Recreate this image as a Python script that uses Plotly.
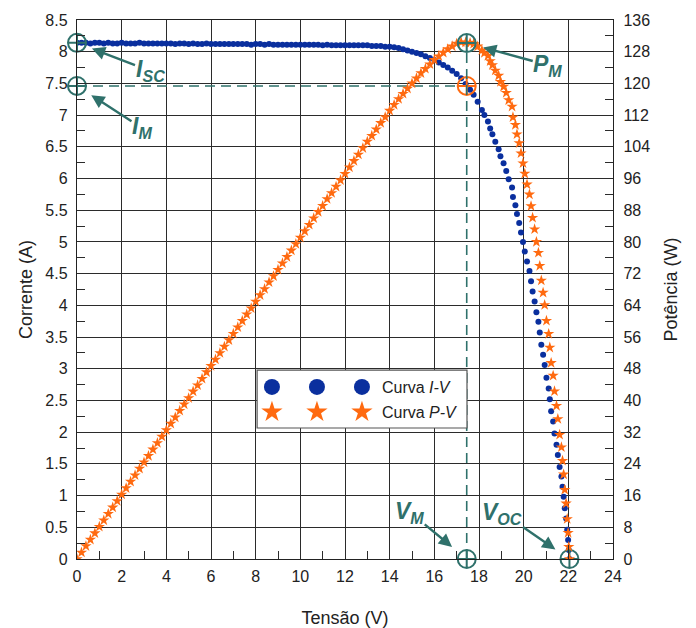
import plotly.graph_objects as go

# ---------------- data ----------------
voltage = [
    0.0, 0.2, 0.4, 0.6, 0.8, 1.0, 1.2, 1.4, 1.6, 1.8,
    2.0, 2.2, 2.4, 2.6, 2.8, 3.0, 3.2, 3.4, 3.6, 3.8,
    4.0, 4.2, 4.4, 4.6, 4.8, 5.0, 5.2, 5.4, 5.6, 5.8,
    6.0, 6.2, 6.4, 6.6, 6.8, 7.0, 7.2, 7.4, 7.6, 7.8,
    8.0, 8.2, 8.4, 8.6, 8.8, 9.0, 9.2, 9.4, 9.6, 9.8,
    10.0, 10.2, 10.4, 10.6, 10.8, 11.0, 11.2, 11.4, 11.6, 11.8,
    12.0, 12.2, 12.4, 12.6, 12.8, 13.0, 13.2, 13.4, 13.6, 13.8,
    14.0, 14.2, 14.4, 14.6, 14.8, 15.0, 15.2, 15.4, 15.6, 15.8,
    16.0, 16.2, 16.4, 16.6, 16.8, 17.0, 17.2, 17.4, 17.60, 17.76,
    17.94, 18.13, 18.24, 18.40, 18.50, 18.60, 18.73, 18.88, 18.96, 19.10,
    19.22, 19.33, 19.48, 19.52, 19.63, 19.70, 19.80, 19.88, 19.97, 20.05,
    20.15, 20.26, 20.33, 20.40, 20.49, 20.57, 20.66, 20.72, 20.79, 20.87,
    20.94, 21.02, 21.12, 21.17, 21.23, 21.32, 21.38, 21.47, 21.53, 21.61,
    21.69, 21.74, 21.79, 21.84, 21.90, 21.95, 21.99, 22.02, 22.05,
]
current = [
    8.14, 8.14, 8.14, 8.13, 8.14, 8.14, 8.13, 8.14, 8.13, 8.13,
    8.14, 8.13, 8.13, 8.13, 8.14, 8.13, 8.13, 8.13, 8.13, 8.13,
    8.13, 8.13, 8.12, 8.13, 8.13, 8.12, 8.13, 8.12, 8.12, 8.13,
    8.12, 8.12, 8.12, 8.12, 8.12, 8.12, 8.12, 8.12, 8.12, 8.11,
    8.12, 8.12, 8.11, 8.12, 8.11, 8.11, 8.11, 8.11, 8.11, 8.11,
    8.11, 8.11, 8.11, 8.11, 8.11, 8.10, 8.11, 8.10, 8.10, 8.10,
    8.10, 8.10, 8.10, 8.10, 8.10, 8.10, 8.09, 8.09, 8.09, 8.08,
    8.08, 8.07, 8.06, 8.04, 8.02, 8.00, 7.98, 7.96, 7.93, 7.90,
    7.87, 7.83, 7.79, 7.75, 7.70, 7.65, 7.58, 7.49, 7.40, 7.32,
    7.21, 7.08, 7.00, 6.90, 6.79, 6.70, 6.58, 6.46, 6.35, 6.24,
    6.12, 5.99, 5.86, 5.71, 5.58, 5.44, 5.30, 5.15, 5.00, 4.85,
    4.69, 4.54, 4.38, 4.22, 4.06, 3.89, 3.74, 3.57, 3.38, 3.22,
    3.06, 2.86, 2.69, 2.52, 2.33, 2.17, 1.98, 1.80, 1.64, 1.45,
    1.30, 1.14, 0.98, 0.80, 0.64, 0.46, 0.30, 0.14, 0.0,
]
power = [v * i for v, i in zip(voltage, current)]

isc = 8.14   # short-circuit current (A)
voc = 22.05  # open-circuit voltage (V)
vm = 17.45   # voltage at maximum power (V)
im = 7.46    # current at maximum power (A)
pm = vm * im

legend_names = ["Curva <i>I-V</i>", "Curva <i>P-V</i>"]
x_ticks = [0, 2, 4, 6, 8, 10, 12, 14, 16, 18, 20, 22, 24]

# ---------------- styling ----------------
TEAL = "#2f716b"
BLUE = "#0a2f9e"
ORANGE = "#ff6a10"
GRID = "#2b2b2b"
FONT = "Liberation Sans, Arial, sans-serif"

fig = go.Figure()

# dashed guide lines
fig.add_trace(go.Scatter(x=[0, vm], y=[im, im], mode="lines", yaxis="y",
                         line=dict(color=TEAL, dash="10px,6px", width=1.6),
                         showlegend=False, hoverinfo="skip"))
fig.add_trace(go.Scatter(x=[vm, vm], y=[0, pm], mode="lines", yaxis="y2",
                         line=dict(color=TEAL, dash="10px,6px", width=1.6),
                         showlegend=False, hoverinfo="skip"))

# data
fig.add_trace(go.Scatter(x=voltage, y=current, mode="markers", yaxis="y",
                         marker=dict(color=BLUE, size=6, line=dict(width=0)),
                         showlegend=False))
fig.add_trace(go.Scatter(x=voltage, y=power, mode="markers", yaxis="y2",
                         marker=dict(symbol="star", color=ORANGE, size=8.5, line=dict(width=0)),
                         showlegend=False))

# characteristic points
fig.add_trace(go.Scatter(x=[0, 0, vm, voc], y=[isc, im, 0, 0], mode="markers", yaxis="y",
                         marker=dict(symbol="circle-cross-open", size=18, color=TEAL,
                                     line=dict(width=2, color=TEAL)),
                         cliponaxis=False, showlegend=False))
fig.add_trace(go.Scatter(x=[vm], y=[pm], mode="markers", yaxis="y2",
                         marker=dict(symbol="circle-cross-open", size=18, color=TEAL,
                                     line=dict(width=2, color=TEAL)),
                         cliponaxis=False, showlegend=False))
fig.add_trace(go.Scatter(x=[vm], y=[im], mode="markers", yaxis="y",
                         marker=dict(symbol="circle-cross-open", size=18, color=ORANGE,
                                     line=dict(width=2, color=ORANGE)),
                         cliponaxis=False, showlegend=False))

# legend entries (three symbols per row, like the original)
for k in range(3):
    fig.add_trace(go.Scatter(x=[None], y=[None], mode="markers",
                             marker=dict(color=BLUE, size=16),
                             name=legend_names[0] if k == 2 else "", legend="legend"))
for k in range(3):
    fig.add_trace(go.Scatter(x=[None], y=[None], mode="markers",
                             marker=dict(symbol="star", color=ORANGE, size=17, line=dict(width=0)),
                             name=legend_names[1] if k == 2 else "", legend="legend2"))

# legend frame
fig.add_shape(type="rect", xref="paper", yref="paper",
              x0=0.336, x1=0.7276, y0=0.243, y1=0.3506,
              line=dict(color="#555555", width=1.2), fillcolor="white", layer="above")

# annotations (label with arrow pointing to the characteristic point)
def label(x, y, yref, text, adx, ady, standoff):
    fig.add_annotation(x=x, y=y, xref="x", yref=yref, text=text, showarrow=True,
                       ax=adx, ay=ady, arrowhead=2, arrowsize=1.1, arrowwidth=2.4,
                       arrowcolor=TEAL, standoff=standoff, borderpad=0,
                       font=dict(size=23, color=TEAL, family=FONT))

label(0, isc, "y", "<b><i>I<sub>SC</sub></i></b>", 73, 28, 16)
label(0, im, "y", "<b><i>I<sub>M</sub></i></b>", 65, 42, 17)
label(vm, pm, "y2", "<b><i>P<sub>M</sub></i></b>", 81, 22, 17)
label(vm, 0, "y", "<b><i>V<sub>M</sub></i></b>", -57, -47, 19)
label(voc, 0, "y", "<b><i>V<sub>OC</sub></i></b>", -67, -46, 17)

axis_common = dict(showgrid=True, gridcolor=GRID, gridwidth=1, zeroline=False,
                   ticks="inside", ticklen=14, tickwidth=1.2, tickcolor=GRID,
                   showline=True, linecolor="#222222", linewidth=1.4, automargin=False,
                   tickfont=dict(size=16, color="#222222", family=FONT))

fig.update_layout(
    width=696, height=628,
    margin=dict(l=77, r=83, t=20, b=69, autoexpand=False),
    paper_bgcolor="white", plot_bgcolor="white",
    font=dict(family=FONT, color="#222222"),
    xaxis=dict(range=[0, 24], tickvals=x_ticks, mirror=True,
               minor=dict(dtick=1, ticks="inside", ticklen=8, tickcolor=GRID, showgrid=False),
               ticklabelstandoff=3,
               title=dict(text="Tensão (V)", font=dict(size=18), standoff=26),
               **axis_common),
    yaxis=dict(range=[0, 8.5], dtick=0.5, tick0=0, mirror=True,
               minor=dict(dtick=0.25, ticks="inside", ticklen=8, tickcolor=GRID, showgrid=False),
               ticklabelstandoff=5,
               title=dict(text="Corrente (A)", font=dict(size=18), standoff=8),
               **axis_common),
    yaxis2=dict(range=[0, 136], dtick=8, tick0=0, overlaying="y", side="right",
                showgrid=False, zeroline=False, automargin=False,
                ticks="inside", ticklen=14, tickwidth=1.2, tickcolor=GRID,
                showline=True, linecolor="#222222", linewidth=1.4,
                minor=dict(dtick=4, ticks="inside", ticklen=8, tickcolor=GRID, showgrid=False),
                ticklabelstandoff=6,
                tickfont=dict(size=16, color="#222222", family=FONT),
                title=dict(text="Potência (W)", font=dict(size=18), standoff=15)),
    legend=dict(orientation="h", x=0.3264, y=0.3191, xanchor="left", yanchor="middle",
                bgcolor="rgba(0,0,0,0)", borderwidth=0, font=dict(size=16, family=FONT),
                itemclick=False, itemdoubleclick=False),
    legend2=dict(orientation="h", x=0.3264, y=0.2727, xanchor="left", yanchor="middle",
                 bgcolor="rgba(0,0,0,0)", borderwidth=0, font=dict(size=16, family=FONT),
                 itemclick=False, itemdoubleclick=False),
    showlegend=True,
)

fig.write_html("out.html")
